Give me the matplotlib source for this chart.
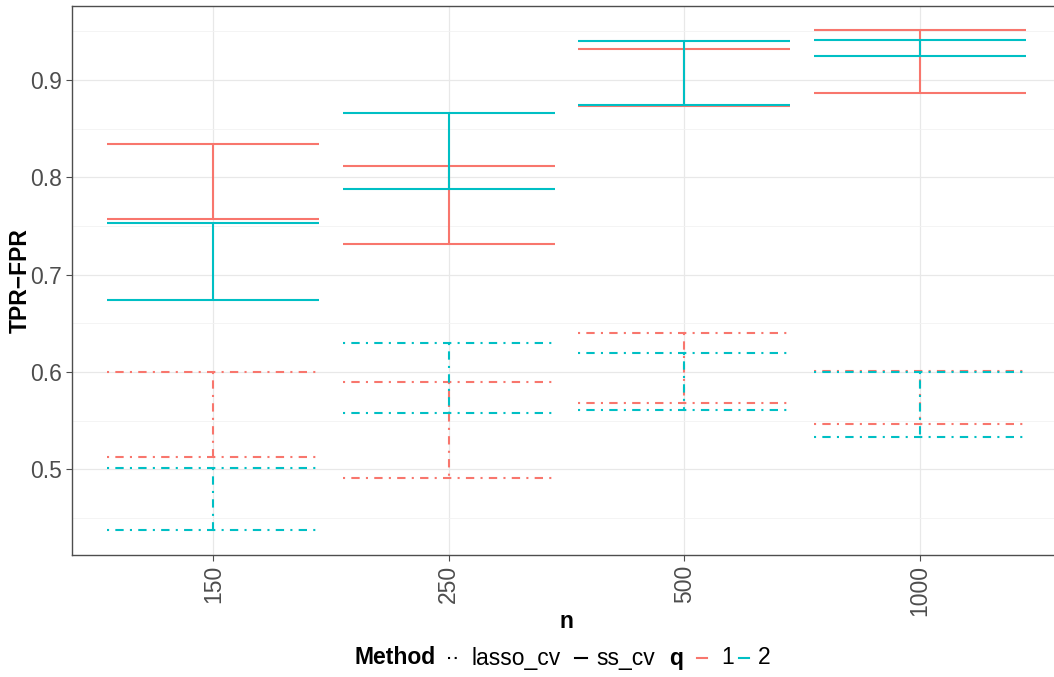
import matplotlib
matplotlib.use("Agg")
import matplotlib.pyplot as plt
from matplotlib.lines import Line2D
import numpy as np

plt.rcParams["font.family"] = ["Liberation Sans", "DejaVu Sans"]

n_labels = ["150", "250", "500", "1000"]
methods = ["lasso_cv", "ss_cv"]
q_levels = ["1", "2"]

# (method, q) -> lower / upper ends per n
lower = {
    ("lasso_cv", "1"): [0.512, 0.491, 0.568, 0.546],
    ("lasso_cv", "2"): [0.437, 0.558, 0.561, 0.533],
    ("ss_cv", "1"):    [0.757, 0.731, 0.873, 0.887],
    ("ss_cv", "2"):    [0.674, 0.788, 0.874, 0.925],
}
upper = {
    ("lasso_cv", "1"): [0.600, 0.590, 0.640, 0.601],
    ("lasso_cv", "2"): [0.501, 0.630, 0.619, 0.600],
    ("ss_cv", "1"):    [0.834, 0.812, 0.932, 0.951],
    ("ss_cv", "2"):    [0.753, 0.866, 0.940, 0.941],
}

q_colors = {"1": "#F8766D", "2": "#00BFC4"}
styles = {"lasso_cv": (0, (1, 3, 4, 3)), "ss_cv": "-"}
FS = 16.5

fig = plt.figure(figsize=(10.54, 6.77), dpi=100)
ax = fig.add_axes([72 / 1054, 122 / 677, 989 / 1054, 549 / 677])

x = np.arange(len(n_labels))
hw = 0.45
for m in methods:
    for q in q_levels:
        lo = np.array(lower[(m, q)])
        hi = np.array(upper[(m, q)])
        xs, ys = [], []
        for xi, a, b in zip(x, lo, hi):
            xs += [xi - hw, xi + hw, np.nan, xi, xi, np.nan, xi - hw, xi + hw, np.nan]
            ys += [b, b, np.nan, b, a, np.nan, a, a, np.nan]
        ax.plot(xs, ys, color=q_colors[q], ls=styles[m], lw=1.5,
                solid_capstyle="butt", dash_capstyle="butt", zorder=3)

ax.set_xlim(-0.6, 3.6)
ax.set_ylim(0.4118, 0.976)
ax.set_xticks(x)
ax.set_xticklabels(n_labels, rotation=90, fontsize=FS, color="#4D4D4D")
ax.set_yticks([0.5, 0.6, 0.7, 0.8, 0.9])
ax.set_yticklabels(["0.5", "0.6", "0.7", "0.8", "0.9"], fontsize=FS, color="#4D4D4D")
ax.set_yticks(np.arange(0.45, 0.96, 0.1), minor=True)
ax.tick_params(axis="both", which="major", length=4, width=0.8, color="#4D4D4D", pad=3)
ax.tick_params(axis="y", which="minor", length=0)
ax.set_axisbelow(True)
ax.grid(True, which="major", color="#E8E8E8", lw=0.9)
ax.grid(True, which="minor", axis="y", color="#F2F2F2", lw=0.6)
for sp in ax.spines.values():
    sp.set_color("#4D4D4D")
    sp.set_linewidth(1.0)

ax.set_xlabel("n", fontsize=FS, fontweight="bold", va="center")
ax.xaxis.set_label_coords(0.5, -(622 - 555) / 549)
ax.set_ylabel("TPR\u2212FPR", fontsize=FS, fontweight="bold", va="center")
ax.yaxis.set_label_coords(-(72 - 20) / 989, 0.5)

# legend along the bottom, built from the same style maps
H, W = 677, 1054
ly = 1 - 658 / H
def fx(px):
    return px / W

fig.text(fx(355), ly, "Method", fontsize=FS, fontweight="bold", va="center", ha="left")
fig.add_artist(Line2D([fx(448), fx(458)], [ly, ly], color="black",
                      ls=(0, (1, 2.2, 1, 2.2)), lw=1.5, transform=fig.transFigure))
fig.text(fx(471), ly, "lasso_cv", fontsize=FS, va="center", ha="left")
fig.add_artist(Line2D([fx(575), fx(587)], [ly, ly], color="black",
                      ls=styles["ss_cv"], lw=1.5, transform=fig.transFigure))
fig.text(fx(596), ly, "ss_cv", fontsize=FS, va="center", ha="left")
fig.text(fx(669), ly, "q", fontsize=FS, fontweight="bold", va="center", ha="left")
fig.add_artist(Line2D([fx(697), fx(707)], [ly, ly], color=q_colors["1"],
                      lw=1.5, transform=fig.transFigure))
fig.text(fx(721), ly, q_levels[0], fontsize=FS, va="center", ha="left")
fig.add_artist(Line2D([fx(739), fx(749)], [ly, ly], color=q_colors["2"],
                      lw=1.5, transform=fig.transFigure))
fig.text(fx(758), ly, q_levels[1], fontsize=FS, va="center", ha="left")

fig.savefig("out.png", dpi=100)
